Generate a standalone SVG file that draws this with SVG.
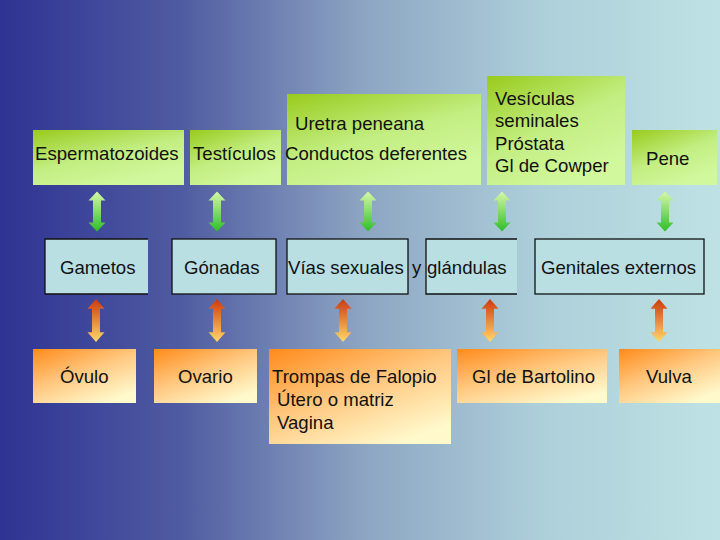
<svg xmlns="http://www.w3.org/2000/svg" width="720" height="540" viewBox="0 0 720 540">
<defs>
<linearGradient id="bg" x1="0" y1="0" x2="1" y2="0">
<stop offset="0" stop-color="#2E3393"/>
<stop offset="0.25" stop-color="#4F5BA1"/>
<stop offset="0.5" stop-color="#8CA4C2"/>
<stop offset="0.75" stop-color="#ADCFDA"/>
<stop offset="1" stop-color="#BEE2E4"/>
</linearGradient>
<linearGradient id="gGreen" x1="0" y1="0" x2="0.6" y2="1">
<stop offset="0" stop-color="#98CB1C"/>
<stop offset="0.55" stop-color="#C3EE82"/>
<stop offset="1" stop-color="#D2F89E"/>
</linearGradient>
<linearGradient id="gOrange" x1="0" y1="0" x2="0.7" y2="1">
<stop offset="0" stop-color="#FF8A1A"/>
<stop offset="0.5" stop-color="#FFC77E"/>
<stop offset="1" stop-color="#FFF9CC"/>
</linearGradient>
<linearGradient id="aGreen" x1="0" y1="0" x2="0" y2="1">
<stop offset="0" stop-color="#D8F8A8"/>
<stop offset="1" stop-color="#2EBE2A"/>
</linearGradient>
<linearGradient id="aOrange" x1="0" y1="0" x2="0" y2="1">
<stop offset="0" stop-color="#CC3A10"/>
<stop offset="1" stop-color="#FFD868"/>
</linearGradient>
<path id="dbl" d="M0,-20 L8.5,-11 L4,-11 L4,11 L8.5,11 L0,20 L-8.5,11 L-4,11 L-4,-11 L-8.5,-11 Z"/>
</defs>
<style>
text { font-family: "Liberation Sans", Arial, sans-serif; font-size: 18.6px; fill: #111; }
.top { fill: url(#gGreen); }
.bot { fill: url(#gOrange); }
.mid { fill: #B9DFE3; stroke: #111; stroke-width: 1.3; }
.midf { fill: #B9DFE3; }
.edge { fill: none; stroke: #111; stroke-width: 1.3; }
.ag { fill: url(#aGreen); }
.ao { fill: url(#aOrange); }
</style>
<rect x="0" y="0" width="720" height="540" fill="url(#bg)"/>

<g id="n-espermatozoides"><rect class="top" x="33" y="130" width="151" height="55"/><text x="35" y="160">Espermatozoides</text></g>
<g id="n-testiculos"><rect class="top" x="190" y="130" width="91" height="55"/><text x="193" y="160">Testículos</text></g>
<g id="n-conductos"><rect class="top" x="287" y="94" width="194" height="91"/><text x="295" y="130">Uretra peneana</text><text x="285" y="160">Conductos deferentes</text></g>
<g id="n-vesiculas"><rect class="top" x="487" y="76" width="138" height="109"/><text x="495" y="105">Vesículas</text><text x="495" y="127">seminales</text><text x="495" y="150">Próstata</text><text x="495" y="172">Gl de Cowper</text></g>
<g id="n-pene"><rect class="top" x="632" y="130" width="85" height="55"/><text x="646" y="165">Pene</text></g>

<g id="n-gametos"><rect class="midf" x="45" y="239" width="103" height="55"/><path class="edge" d="M148,239 H45 V294 H148"/><text x="60" y="274">Gametos</text></g>
<g id="n-gonadas"><rect class="mid" x="172" y="239" width="104" height="55"/><text x="184" y="274">Gónadas</text></g>
<g id="n-vias"><rect class="mid" x="287" y="239" width="121" height="55"/><text x="288" y="274">Vías sexuales</text></g>
<g id="n-y"><text x="412" y="274">y</text></g>
<g id="n-glandulas"><rect class="midf" x="426" y="239" width="91" height="55"/><path class="edge" d="M517,239 H426 V294 H517"/><text x="427" y="274">glándulas</text></g>
<g id="n-genitales"><rect class="mid" x="535" y="239" width="169" height="55"/><text x="541" y="274">Genitales externos</text></g>

<g id="n-ovulo"><rect class="bot" x="33" y="349" width="103" height="54"/><text x="60" y="383">Óvulo</text></g>
<g id="n-ovario"><rect class="bot" x="154" y="349" width="103" height="54"/><text x="178" y="383">Ovario</text></g>
<g id="n-trompas"><rect class="bot" x="269" y="349" width="182" height="95"/><text x="272" y="383">Trompas de Falopio</text><text x="277" y="406">Útero o matriz</text><text x="277" y="429">Vagina</text></g>
<g id="n-bartolino"><rect class="bot" x="457" y="349" width="150" height="54"/><text x="472" y="383">Gl de Bartolino</text></g>
<g id="n-vulva"><rect class="bot" x="619" y="349" width="101" height="54"/><text x="646" y="383">Vulva</text></g>

<g id="connectors">
<use href="#dbl" class="ag" transform="translate(97,211.5)"/>
<use href="#dbl" class="ag" transform="translate(217,211.5)"/>
<use href="#dbl" class="ag" transform="translate(368,211.5)"/>
<use href="#dbl" class="ag" transform="translate(502,211.5)"/>
<use href="#dbl" class="ag" transform="translate(665,211.5)"/>
<use href="#dbl" class="ao" transform="translate(96,320.5) scale(1,1.07)"/>
<use href="#dbl" class="ao" transform="translate(217,320.5) scale(1,1.07)"/>
<use href="#dbl" class="ao" transform="translate(343,320.5) scale(1,1.07)"/>
<use href="#dbl" class="ao" transform="translate(490,320.5) scale(1,1.07)"/>
<use href="#dbl" class="ao" transform="translate(659,320.5) scale(1,1.07)"/>
</g>
</svg>
